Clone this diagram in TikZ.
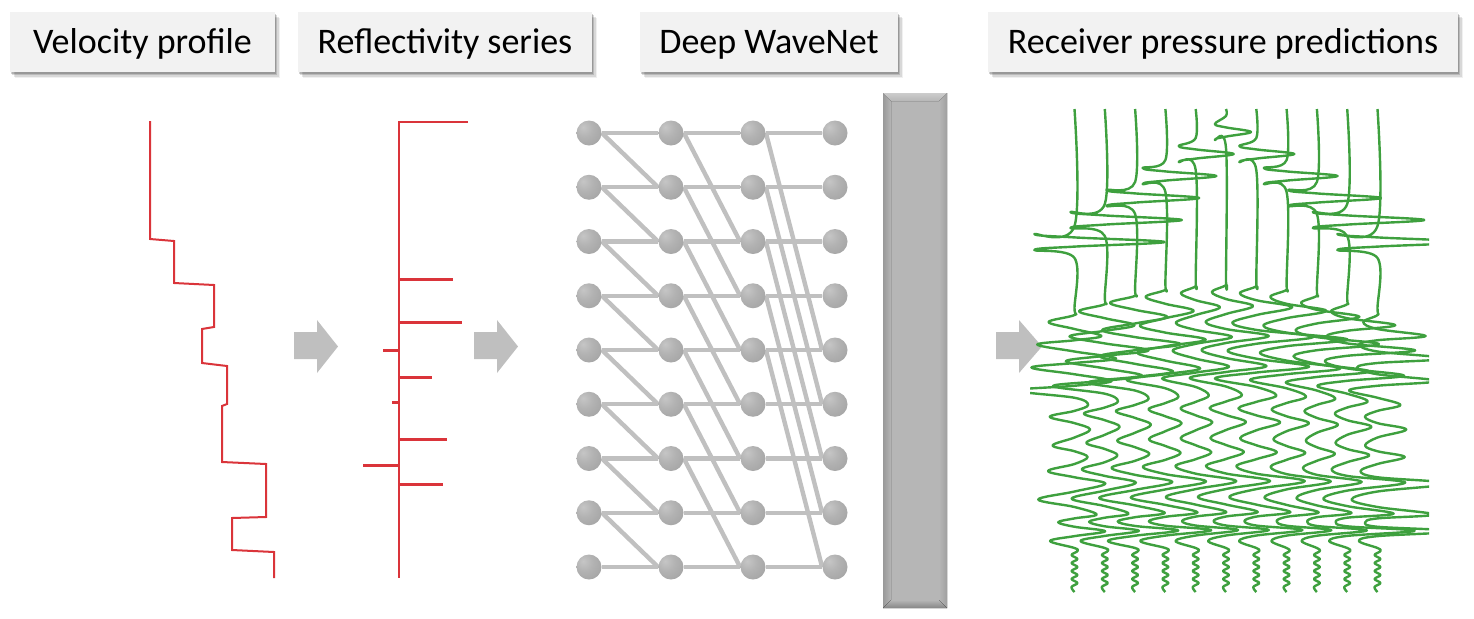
\documentclass[tikz,border=0pt]{standalone}
\usepackage{fontspec}
\setmainfont{Carlito}
\usetikzlibrary{backgrounds,shadows}
\definecolor{vred}{RGB}{218,52,58}
\definecolor{wgreen}{RGB}{62,160,62}
\definecolor{lgray}{RGB}{192,192,192}
\definecolor{boxfill}{RGB}{242,242,242}
\definecolor{arrowgray}{RGB}{191,191,191}
\definecolor{barmid}{RGB}{182,182,182}
\pgfdeclareradialshading{netball}{\pgfpoint{-12bp}{12bp}}{color(0bp)=(gray!45); color(18bp)=(gray!60); color(40bp)=(gray!72); color(58bp)=(gray!92); color(100bp)=(gray!92)}
\tikzset{
  titlebox/.style={fill=boxfill, inner sep=0pt, minimum height=30pt,
    text height=12.5pt, text depth=1pt,
    font=\fontsize{18}{21}\selectfont,
    drop shadow={shadow xshift=0.6pt, shadow yshift=-0.8pt, opacity=0.18, fill=black},
    drop shadow={shadow xshift=1.2pt, shadow yshift=-1.6pt, opacity=0.14, fill=black},
    drop shadow={shadow xshift=1.8pt, shadow yshift=-2.4pt, opacity=0.10, fill=black},
    drop shadow={shadow xshift=2.4pt, shadow yshift=-3.2pt, opacity=0.06, fill=black}},
  ball/.style={circle, inner sep=0pt, minimum size=12.5pt, shading=netball},
  netline/.style={draw=lgray, line width=2.2pt},
  vel/.style={draw=vred, line width=1pt, line join=miter},
  refl/.style={draw=vred, line width=1.1pt},
  spike/.style={draw=vred, line width=1.5pt},
  blockarrow/.style={fill=arrowgray},
  trace/.style={draw=wgreen, line width=1.2pt, line join=round},
}
\begin{document}
\begin{tikzpicture}[x=0.5pt,y=-0.5pt]
\useasboundingbox (0,0) rectangle (1474,618);

% ---- titles ----
\node[titlebox, minimum width=132.5pt] (t1) at (142.5,42) {Velocity profile};
\node[titlebox, minimum width=147pt] (t2) at (445,42) {Reflectivity series};
\node[titlebox, minimum width=129pt] (t3) at (769,42) {Deep WaveNet};
\node[titlebox, minimum width=235pt] (t4) at (1223,42) {Receiver pressure predictions};

% ---- velocity profile ----
\draw[vel] (150,121) -- (150,239) -- (174,241) -- (174,283) -- (214,285) -- (214,327)
  -- (202,329) -- (202,363) -- (227,366) -- (227,404) -- (222,406) -- (222,462)
  -- (266,464) -- (266,517) -- (232,518) -- (232,550) -- (274,552) -- (274,578);

% ---- reflectivity ----
\draw[refl] (468,122) -- (399,122) -- (399,578);
\draw[spike] (399,279) -- (453,279);
\draw[spike] (399,322) -- (462,322);
\draw[spike] (399,350) -- (383,350);
\draw[spike] (399,377) -- (432,377);
\draw[spike] (399,402) -- (392,402);
\draw[spike] (399,439) -- (447,439);
\draw[spike] (399,465) -- (363,465);
\draw[spike] (399,484) -- (443,484);

% ---- block arrows ----
\fill[blockarrow] (294,332) -- (317,332) -- (317,320) -- (338,346.5) -- (317,373) -- (317,359) -- (294,359) -- cycle;
\fill[blockarrow] (474,332) -- (497,332) -- (497,320) -- (518,346.5) -- (497,373) -- (497,359) -- (474,359) -- cycle;
\fill[blockarrow] (996,332) -- (1019,332) -- (1019,320) -- (1042,346.5) -- (1019,373) -- (1019,359) -- (996,359) -- cycle;

% ---- network ----
\foreach \c/\x in {1/589,2/671,3/753,4/835}{
  \foreach \r in {1,...,9}{
    \pgfmathsetmacro\yy{133+54.25*(\r-1)}
    \node[ball] (n\c-\r) at (\x,\yy) {};
  }
}
\begin{scope}[on background layer]
  \foreach \r in {1,...,9}{
    \draw[netline] (n1-\r.east) -- (n2-\r.west);
    \draw[netline] (n2-\r.east) -- (n3-\r.west);
    \draw[netline] (n3-\r.east) -- (n4-\r.west);
  }
  \foreach \r [evaluate=\r as \s using int(\r+1)] in {1,...,8}
    \draw[netline] (n1-\r.east) -- (n2-\s.west);
  \foreach \r [evaluate=\r as \s using int(\r+2)] in {1,...,7}
    \draw[netline] (n2-\r.east) -- (n3-\s.west);
  \foreach \r [evaluate=\r as \s using int(\r+4)] in {1,...,5}
    \draw[netline] (n3-\r.east) -- (n4-\s.west);
\end{scope}

% ---- output bar ----
\fill[barmid] (883,93) rectangle (947,608);
\fill[left color=gray!80, right color=barmid] (883,93) -- (891,101) -- (891,600) -- (883,608) -- cycle;
\fill[left color=barmid, right color=gray!75] (939,101) -- (947,93) -- (947,608) -- (939,600) -- cycle;
\fill[top color=gray!40, bottom color=barmid] (883,93) -- (947,93) -- (939,101) -- (891,101) -- cycle;
\fill[top color=barmid, bottom color=gray!95] (891,600) -- (939,600) -- (947,608) -- (883,608) -- cycle;

% ---- receiver traces ----
\begin{scope}
\clip (1030,100) rectangle (1429,600);
\foreach \j in {-5,...,5}{
  \pgfmathsetmacro\trX{1226+30.3*\j}
  \pgfmathsetmacro\trA{abs(\j)}
  \pgfmathsetmacro\trJ{\j*\j}
  \pgfmathsetmacro\trG{1+0.05*\trA+0.08*sin(97*\j)}
  \pgfmathsetmacro\trT{132+22*\trA}
  \pgfmathsetmacro\trP{25+13*\trA}
  \xdef\pts{(\trX,109)}
  \foreach \dy/\f in {-16/0,-8/-0.446,-4.6/0,0/1,4.6/0,8/-0.446,16/0}{
    \pgfmathsetmacro\px{\trX+\f*\trP}
    \pgfmathsetmacro\py{\trT+\dy}
    \xdef\pts{\pts (\px,\py)}
  }
  \pgfmathsetmacro\py{278+1.2*\trJ}
  \xdef\pts{\pts (\trX,\py)}
  \xdef\lasty{\py}
  \foreach \t/\c/\a in {292/1.2/-16,306/1.2/30,322/0.9/-22,336/0.9/45,350/0.7/-25,
      366/0.6/40,378/0.5/-35,395/0.4/15,408/0.35/-15,422/0.3/18,438/0.3/-14,
      452/0.2/16,466/0.2/-18,481/0.1/40,497/0.1/-26,512/0.1/30,521/0.05/-12,
      530/0.05/42,541/0/-18}{
    \pgfmathsetmacro\py{\t+\c*\trJ}
    \pgfmathsetmacro\my{(\lasty+\py)/2}
    \pgfmathsetmacro\px{\trX+\trG*\a*(1+0.06*\j*sign(\a))*(1+0.12*sin(53*\j+\t))}
    \xdef\pts{\pts (\trX,\my) (\px,\py)}
    \xdef\lasty{\py}
  }
  \xdef\pts{\pts (\trX,548)}
  \foreach \k in {0,...,9}{
    \pgfmathsetmacro\py{551+4*\k}
    \pgfmathsetmacro\px{\trX+3*(-1)^\k}
    \xdef\pts{\pts (\px,\py)}
  }
  \xdef\pts{\pts (\trX,592)}
  \edef\drawcmd{\noexpand\draw[trace] plot[smooth, tension=0.6] coordinates {\pts};}
  \drawcmd
}
\end{scope}
\end{tikzpicture}
\end{document}
